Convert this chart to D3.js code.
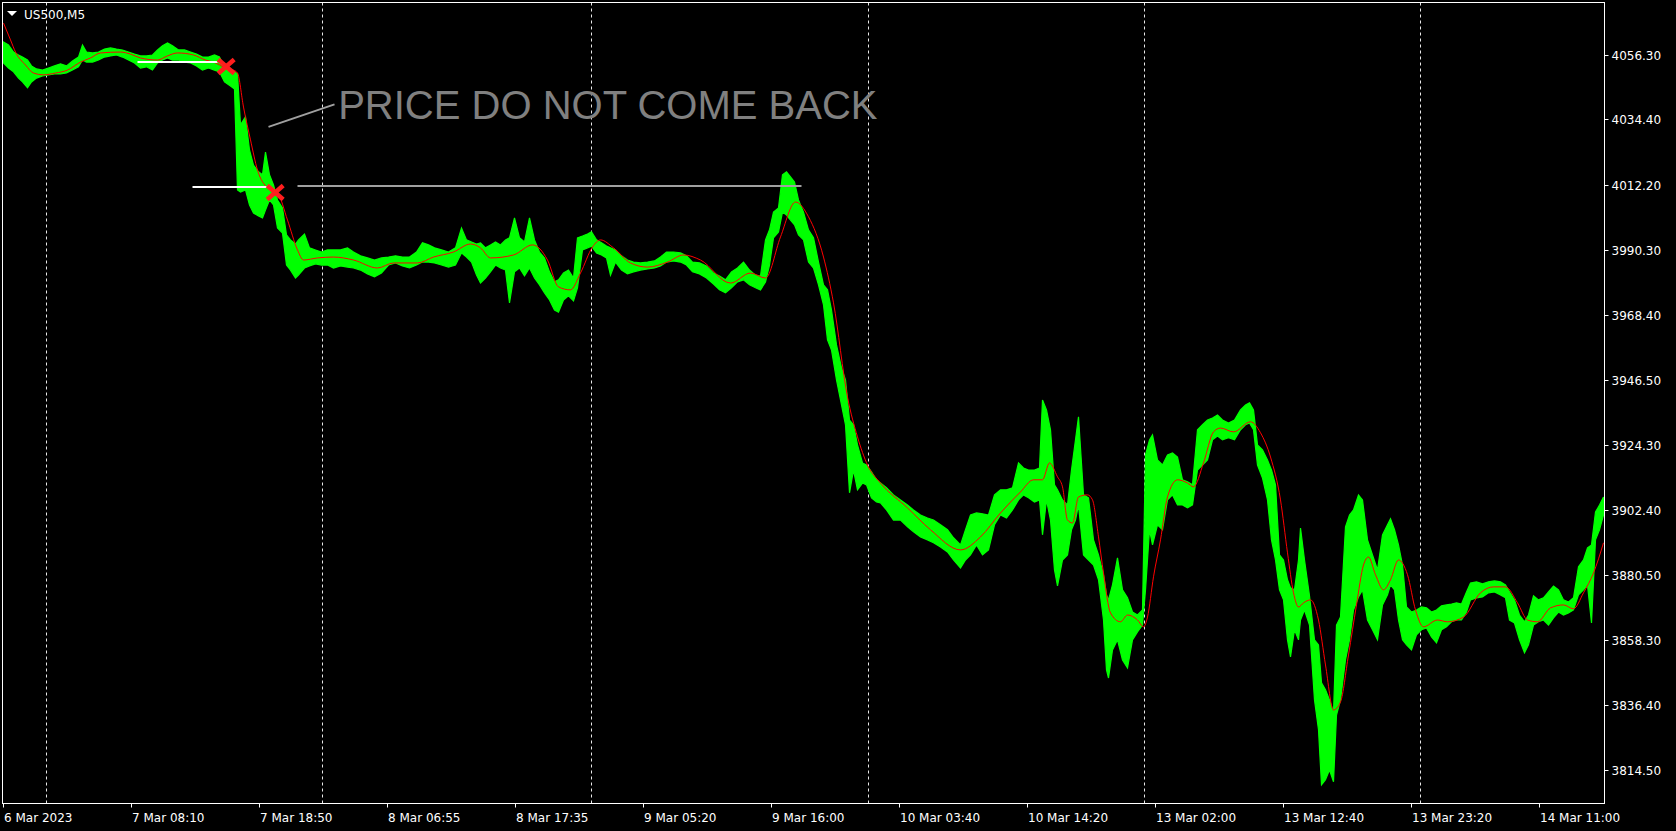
<!DOCTYPE html>
<html><head><meta charset="utf-8">
<script src="https://cdn.jsdelivr.net/npm/d3@7"></script>
<style>html,body{margin:0;padding:0;background:#000;overflow:hidden}</style>
</head><body>
<svg id="chart" width="1676" height="831"></svg>
<script>
// ---------- data ----------
const symbolTitle = "US500,M5";
const xTickBars = [0,128,256,384,512,640,768,896,1024,1152,1280,1408,1536];
const xTickLabels = ["6 Mar 2023","7 Mar 08:10","7 Mar 18:50","8 Mar 06:55","8 Mar 17:35","9 Mar 05:20","9 Mar 16:00","10 Mar 03:40","10 Mar 14:20","13 Mar 02:00","13 Mar 12:40","13 Mar 23:20","14 Mar 11:00"];
const daySeparatorBars = [42,318,588,864,1140,1416];
const yTickValues = [4056.30,4034.40,4012.20,3990.30,3968.40,3946.50,3924.30,3902.40,3880.50,3858.30,3836.40,3814.50];

// sampled M5 bars (bar index, high, low)
const barIndex = [0,5,10,15,19,24,28,33,39,45,51,57,63,69,75,79,83,89,95,101,107,113,119,125,131,137,143,149,154,159,164,169,175,181,187,193,199,205,211,216,221,227,231,234,237,242,246,250,255,259,262,266,270,274,279,283,287,292,295,301,306,312,318,324,330,337,344,350,357,364,371,378,385,392,399,406,413,419,425,431,438,445,452,458,463,468,473,477,482,487,
492,497,502,506,511,516,521,526,531,536,541,546,551,555,560,565,570,574,579,584,588,593,598,603,607,612,618,624,630,637,644,651,657,663,670,677,683,689,696,703,710,716,722,728,734,740,746,752,757,762,766,770,775,779,783,787,791,795,800,805,810,815,820,824,828,833,838,842,846,850,854,859,863,868,873,
877,883,890,897,904,910,917,924,930,937,944,950,957,962,967,973,979,985,991,997,1003,1009,1015,1020,1025,1031,1036,1039,1043,1047,1051,1054,1059,1064,1068,1072,1075,1080,1085,1090,1095,1100,1103,1105,1109,1114,1119,1124,1129,1134,1139,1142,1146,1149,1154,1159,1164,1169,1174,1179,1184,1189,1194,1199,1204,1209,1214,1219,1225,1231,1237,1242,1246,1250,1254,1259,1264,1268,1272,1276,1280,1284,1287,1291,1295,1297,
1301,1306,1311,1315,1318,1322,1326,1330,1333,1337,1342,1346,1350,1355,1359,1364,1369,1374,1379,1384,1387,1391,1395,1399,1403,1408,1413,1418,1423,1428,1433,1438,1443,1448,1453,1458,1463,1467,1473,1479,1485,1491,1497,1502,1506,1511,1516,1521,1525,1530,1535,1540,1545,1550,1555,1560,1565,1570,1575,1580,1584,1588,1592,1596,1600];
const barHigh = [4060.6,4059.6,4057.2,4056.2,4055.5,4054.5,4052.5,4051.5,4051.1,4051.8,4052.5,4053.2,4052.5,4054.2,4055.5,4059.6,4057.2,4056.9,4057.2,4058.2,4058.6,4058.2,4057.9,4057.2,4056.5,4055.9,4055.9,4056.2,4057.9,4059.3,4060.3,4059.3,4057.9,4057.9,4057.2,4056.5,4055.5,4055.5,4056.2,4055.5,4051.8,4051.1,4050.5,4049.8,4032.6,4035.3,4024.1,4019.0,4016.7,4015.7,4023.4,4015.7,4012.3,4007.2,4004.5,3995.4,3993.7,3992.3,3993.7,3995.7,3991.0,3990.3,3989.6,3990.3,3990.3,3990.3,3991.0,3989.6,3988.3,3987.6,3986.9,3987.6,3987.9,3988.3,3987.9,3987.9,3989.6,3992.7,3992.0,3991.0,3990.3,3989.6,3991.0,3997.7,3993.7,3993.0,3992.3,3992.7,3991.0,3992.0,
3993.0,3992.0,3993.7,3994.4,4001.1,3994.4,3993.0,4001.1,3993.7,3989.6,3987.6,3982.9,3979.5,3980.2,3982.5,3983.5,3980.8,3994.4,3995.0,3995.7,3996.4,3993.7,3992.7,3991.6,3991.0,3990.3,3988.3,3986.9,3986.2,3985.9,3986.2,3986.6,3987.9,3989.6,3989.6,3989.3,3988.3,3986.2,3985.9,3984.9,3982.5,3981.5,3980.2,3982.9,3984.2,3986.2,3983.5,3981.8,3981.5,3993.7,3997.1,4003.1,4004.5,4015.7,4016.7,4015.0,4013.3,4007.2,4003.1,3997.1,3994.4,3986.2,3978.5,3976.8,3970.0,3958.2,3950.4,3946.4,3932.8,3931.2,3924.4,3918.3,3917.6,3915.3,3912.6,
3911.5,3909.9,3907.5,3905.8,3904.1,3902.4,3900.7,3899.7,3899.0,3897.4,3895.7,3893.0,3890.6,3895.7,3900.7,3901.4,3901.1,3900.7,3907.5,3909.2,3909.2,3909.9,3918.3,3916.6,3915.9,3915.9,3916.6,3939.6,3936.2,3929.5,3910.9,3909.2,3905.8,3904.1,3915.9,3926.1,3933.9,3907.5,3906.5,3892.3,3887.2,3880.5,3873.7,3872.0,3877.1,3886.2,3875.4,3872.7,3867.9,3866.9,3868.6,3921.0,3926.1,3927.8,3919.3,3917.6,3921.0,3921.7,3920.3,3912.6,3911.9,3910.9,3929.5,3931.2,3932.8,3933.5,3934.5,3932.8,3931.8,3932.8,3936.2,3937.9,3938.6,3936.2,3924.4,3922.7,3919.3,3915.9,3910.9,3887.2,3885.5,3878.8,3876.1,3875.4,3885.5,3896.3,
3885.5,3873.4,3858.5,3856.8,3844.0,3841.6,3838.2,3833.8,3863.5,3866.2,3896.7,3900.7,3902.4,3907.5,3905.8,3892.3,3887.2,3882.1,3894.0,3897.4,3899.4,3895.7,3890.6,3883.8,3869.6,3867.9,3868.6,3869.6,3869.3,3867.9,3868.6,3870.0,3870.3,3870.6,3871.0,3870.6,3874.7,3877.7,3878.1,3877.4,3878.1,3878.4,3878.1,3877.1,3874.7,3872.0,3866.9,3864.6,3866.9,3873.4,3872.0,3872.7,3874.7,3876.7,3875.4,3872.0,3871.3,3872.7,3883.2,3885.5,3889.6,3890.6,3901.7,3904.1,3906.8];
const barLow = [4053.5,4051.8,4050.5,4048.4,4047.1,4045.1,4047.1,4048.4,4049.1,4049.5,4049.8,4049.8,4050.1,4051.1,4052.2,4054.5,4053.8,4053.8,4054.5,4055.5,4055.9,4056.2,4055.5,4054.5,4053.5,4051.8,4052.2,4051.1,4053.5,4054.5,4055.2,4054.5,4054.5,4053.8,4053.5,4052.5,4051.1,4051.8,4051.1,4050.5,4047.1,4045.7,4044.7,4010.6,4009.9,4010.6,4005.5,4002.8,4001.8,4001.1,4003.8,4007.2,4005.5,3997.7,3996.0,3985.2,3983.5,3980.8,3981.8,3984.2,3984.9,3985.6,3985.2,3985.2,3984.2,3984.9,3984.5,3984.2,3983.5,3982.2,3981.2,3982.5,3985.2,3985.9,3984.9,3984.2,3985.2,3986.2,3986.2,3985.9,3985.2,3984.5,3985.2,3989.3,3987.9,3986.2,3981.8,3979.1,3980.8,3982.9,
3985.2,3984.2,3983.5,3972.4,3982.9,3984.2,3981.5,3984.2,3980.8,3978.5,3975.8,3973.4,3970.0,3969.3,3973.4,3974.8,3973.1,3977.5,3990.3,3991.0,3991.6,3989.3,3988.6,3987.6,3981.8,3986.2,3983.5,3982.2,3982.9,3983.5,3983.9,3984.2,3984.9,3986.2,3986.6,3986.2,3985.2,3982.9,3982.2,3980.8,3978.8,3976.8,3975.8,3977.5,3979.5,3980.2,3978.5,3977.5,3976.8,3979.5,3985.2,3994.4,3996.4,4003.1,4002.1,4000.4,3998.8,3995.4,3993.7,3986.2,3984.2,3978.5,3971.7,3959.9,3956.5,3946.4,3937.9,3931.2,3908.2,3915.9,3909.2,3911.5,3910.9,3906.5,3905.1,
3904.8,3902.4,3899.0,3899.0,3896.7,3895.0,3893.3,3892.3,3891.3,3889.9,3888.2,3885.5,3882.8,3885.5,3887.2,3890.6,3887.2,3888.9,3897.4,3900.7,3899.7,3902.4,3905.8,3907.5,3906.5,3905.1,3905.8,3894.0,3905.8,3899.0,3882.1,3876.7,3885.5,3887.2,3895.7,3899.0,3904.1,3887.2,3885.5,3883.8,3878.8,3865.2,3848.3,3845.6,3855.1,3858.5,3851.7,3849.0,3858.5,3861.2,3863.5,3875.4,3895.7,3890.6,3897.4,3895.7,3905.8,3907.5,3904.1,3904.1,3903.1,3904.1,3915.9,3917.6,3919.3,3926.1,3927.4,3926.1,3926.8,3926.1,3929.5,3931.2,3931.8,3929.5,3917.6,3913.2,3905.8,3892.3,3885.5,3875.4,3872.0,3858.5,3852.7,3861.9,3858.5,3865.2,
3868.6,3863.5,3838.2,3828.1,3809.5,3811.2,3814.5,3810.5,3833.1,3838.2,3851.7,3858.5,3868.6,3873.0,3875.4,3865.2,3861.9,3858.5,3870.3,3873.7,3877.1,3875.4,3865.2,3858.5,3856.8,3855.1,3860.2,3861.9,3862.5,3859.5,3857.5,3861.9,3862.9,3864.6,3865.2,3865.2,3867.9,3872.0,3872.7,3873.0,3874.4,3874.7,3873.7,3872.7,3865.2,3864.2,3858.5,3854.1,3856.8,3863.5,3864.6,3865.2,3863.5,3865.9,3867.9,3866.9,3867.6,3868.6,3873.7,3875.4,3877.1,3864.2,3892.3,3895.7,3900.7];

// moving average (bar index, value)
const maIndex = [0,7,12,22,30,40,52,64,77,87,97,117,127,137,154,164,174,190,202,210,222,230,234,240,247,254,264,274,284,294,300,314,330,350,374,390,414,430,450,467,477,487,510,529,544,555,567,577,589,597,610,627,644,664,680,697,727,747,762,777,792,805,820,830,844,854,864,877,904,927,957,977,997,1017,1030,1039,1046,1054,1059,1064,1069,1075,1084,1089,1095,1100,1107,1117,1124,1134,1140,1144,1150,1157,1164,1174,1184,1190,1200,1210,1217,1230,1247,1257,1267,1277,1284,1290,1295,1300,1307,1315,1322,1330,1337,1345,1353,1360,1365,1372,1380,1387,1395,1404,1412,1420,1434,1444,1460,1477,1490,1502,1514,1524,1534,1547,1560,1570,1580,1590,1600];
const maValue = [4067.0,4061.3,4057.2,4052.8,4050.1,4049.5,4050.1,4051.1,4053.8,4055.2,4056.9,4057.2,4056.5,4055.2,4054.5,4055.9,4056.9,4056.2,4054.5,4053.8,4051.8,4051.1,4050.1,4038.6,4027.5,4017.3,4011.3,4009.6,4000.4,3990.3,3986.9,3987.6,3987.9,3986.9,3984.2,3985.9,3985.9,3987.9,3989.6,3992.3,3991.0,3987.6,3988.6,3992.0,3986.9,3977.8,3976.8,3982.5,3991.3,3993.7,3991.0,3985.9,3984.5,3986.2,3988.6,3986.9,3979.1,3982.5,3980.8,3994.7,4006.5,4001.5,3987.9,3972.4,3940.6,3927.1,3917.6,3911.5,3903.1,3895.7,3888.9,3893.3,3901.4,3908.5,3912.6,3912.6,3918.3,3913.6,3910.2,3899.0,3898.0,3906.8,3907.5,3905.8,3893.3,3881.1,3867.6,3864.6,3866.9,3865.2,3862.9,3866.2,3879.8,3892.3,3906.8,3912.6,3911.5,3910.2,3918.3,3928.8,3930.1,3928.8,3932.2,3928.5,3920.3,3905.8,3887.9,3874.4,3869.6,3871.0,3872.0,3865.2,3850.0,3834.8,3837.5,3853.4,3870.3,3883.8,3886.5,3880.5,3875.4,3878.8,3885.5,3880.5,3868.6,3862.9,3865.2,3864.6,3866.2,3874.4,3876.4,3876.4,3871.0,3865.2,3864.6,3869.3,3870.3,3869.0,3874.4,3881.1,3891.3];

// drawn objects (bar index / price)
const levelStartBar = [134, 189];
const levelEndBar = [214, 265];
const levelPrice = [4053.8, 4011.6];
const refLineStartBar = 294, refLineEndBar = 798, refLinePrice = 4011.9;
const crossBar = [222.7, 271.7];
const crossPrice = [4052.3, 4009.7];
const trendStartBar = 265, trendStartPrice = 4031.9, trendEndBar = 331, trendEndPrice = 4039.5;
const noteText = "PRICE DO NOT COME BACK";
const noteBar = 334.7, notePrice = 4034.6;

// ---------- layout ----------
const svg = d3.select("#chart");
const W = 1676, H = 831;
const plot = {left: 2.5, top: 2.5, right: 1604.5, bottom: 803.5};
svg.append("rect").attr("width", W).attr("height", H).attr("fill", "#000");

const x = d3.scaleLinear().domain([0, 1601]).range([3.5, 1604.5]);
const y = d3.scaleLinear().domain([3814.5, 4056.3]).range([770, 54.7]);

svg.append("defs").append("clipPath").attr("id", "clip")
  .append("rect").attr("x", plot.left).attr("y", plot.top)
  .attr("width", plot.right - plot.left).attr("height", plot.bottom - plot.top);

const g = svg.append("g").attr("clip-path", "url(#clip)");

// day separators
g.selectAll("line.sep").data(daySeparatorBars).enter().append("line")
  .attr("x1", d => Math.round(x(d)) + 0.5).attr("x2", d => Math.round(x(d)) + 0.5)
  .attr("y1", plot.top).attr("y2", plot.bottom)
  .attr("stroke", "#e8e8e8").attr("stroke-width", 1).attr("stroke-dasharray", "3,3");

// price bars band
const bars = barIndex.map((b, i) => ({b, h: barHigh[i], l: barLow[i]}));
const area = d3.area().x(d => x(d.b)).y0(d => y(d.l)).y1(d => y(d.h)).curve(d3.curveLinear);
g.append("path").datum(bars).attr("d", area)
  .attr("fill", "#00ff00").attr("stroke", "#00ff00").attr("stroke-width", 1.2).attr("stroke-linejoin", "miter");

// moving average
const ma = maIndex.map((b, i) => ({b, v: maValue[i]}));
g.append("path").datum(ma)
  .attr("d", d3.line().x(d => x(d.b)).y(d => y(d.v)).curve(d3.curveMonotoneX))
  .attr("fill", "none").attr("stroke", "#ff0000").attr("stroke-width", 1);

// level lines (white)
levelPrice.forEach((p, i) => {
  g.append("line").attr("x1", x(levelStartBar[i])).attr("x2", x(levelEndBar[i]))
    .attr("y1", Math.round(y(p))).attr("y2", Math.round(y(p)))
    .attr("stroke", "#ffffff").attr("stroke-width", 2);
});
// reference grey level
g.append("line").attr("x1", x(refLineStartBar)).attr("x2", x(refLineEndBar))
  .attr("y1", Math.round(y(refLinePrice))).attr("y2", Math.round(y(refLinePrice)))
  .attr("stroke", "#a0a0a0").attr("stroke-width", 2);
// trend line to note
g.append("line").attr("x1", x(trendStartBar)).attr("y1", y(trendStartPrice))
  .attr("x2", x(trendEndBar)).attr("y2", y(trendEndPrice))
  .attr("stroke", "#a0a0a0").attr("stroke-width", 2);
// note text
g.append("text").attr("x", x(noteBar)).attr("y", y(notePrice))
  .attr("font-family", "'Liberation Sans', Arial, sans-serif").attr("font-size", 40)
  .attr("fill", "#808080").text(noteText);
// red crosses
crossPrice.forEach((p, i) => {
  const cx = x(crossBar[i]), cy = y(p), sx = 8, sy = 7;
  const cg = g.append("g");
  cg.append("line").attr("x1", cx - sx).attr("y1", cy - sy).attr("x2", cx + sx).attr("y2", cy + sy);
  cg.append("line").attr("x1", cx - sx).attr("y1", cy + sy).attr("x2", cx + sx).attr("y2", cy - sy);
  cg.selectAll("line").attr("stroke", "#ff1e1e").attr("stroke-width", 4.5).attr("stroke-linecap", "butt");
});

// frame
svg.append("rect").attr("x", plot.left).attr("y", plot.top)
  .attr("width", plot.right - plot.left).attr("height", plot.bottom - plot.top)
  .attr("fill", "none").attr("stroke", "#ffffff").attr("stroke-width", 1);

// y axis
const yAxis = svg.append("g");
yTickValues.forEach(v => {
  const yy = Math.round(y(v)) + 0.5;
  yAxis.append("line").attr("x1", plot.right).attr("x2", plot.right + 4).attr("y1", yy).attr("y2", yy)
    .attr("stroke", "#fff");
  yAxis.append("text").attr("x", 1611.5).attr("y", yy).attr("dy", "0.36em")
    .attr("font-family", "'DejaVu Sans', sans-serif").attr("font-size", 12).attr("fill", "#fff")
    .text(d3.format(".2f")(v));
});

// x axis
const xAxis = svg.append("g");
xTickBars.forEach((b, i) => {
  const xx = Math.round(x(b) - 0.5) + 0.5;
  xAxis.append("line").attr("x1", xx).attr("x2", xx).attr("y1", plot.bottom).attr("y2", plot.bottom + 4)
    .attr("stroke", "#fff");
  xAxis.append("text").attr("x", xx + 0.5).attr("y", 821.5)
    .attr("font-family", "'DejaVu Sans', sans-serif").attr("font-size", 12).attr("fill", "#fff")
    .text(xTickLabels[i]);
});

// title
svg.append("path").attr("d", "M7,11 L17,11 L12,16 Z").attr("fill", "#fff");
svg.append("text").attr("x", 24).attr("y", 18.5)
  .attr("font-family", "'DejaVu Sans', sans-serif").attr("font-size", 12).attr("fill", "#fff")
  .text(symbolTitle);
</script>
</body></html>
